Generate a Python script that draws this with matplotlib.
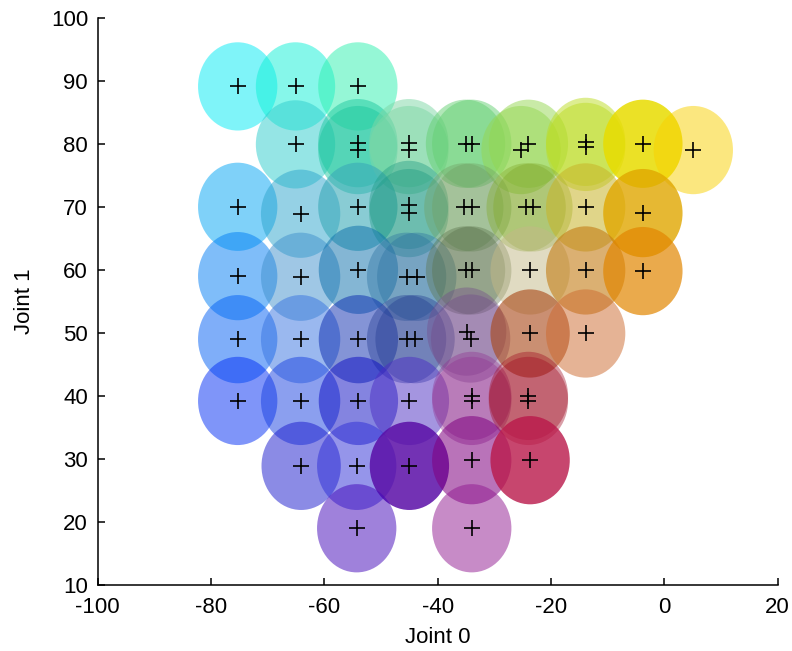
import matplotlib
matplotlib.use("Agg")
import matplotlib.pyplot as plt
from matplotlib.patches import Circle

plt.rcParams['font.family'] = ['Liberation Sans', 'DejaVu Sans']
plt.rcParams['axes.unicode_minus'] = False

# joint angles of each sample
joint0 = [-75.3, -65.1, -54.1,
          -65.1, -54.1, -54.1, -45.1, -45.1, -35.1, -34.0, -24.0, -25.3, -13.9, -13.9, -3.8, 5.1,
          -75.3, -64.2, -54.1, -45.1, -45.1, -35.4, -34.0, -24.4, -23.2, -13.9, -3.8,
          -75.3, -64.2, -54.0, -45.5, -43.7, -35.1, -34.0, -23.7, -13.9, -3.8,
          -75.3, -64.2, -54.0, -45.5, -44.0, -34.9, -34.2, -23.7, -13.9,
          -75.3, -64.2, -54.0, -45.0, -34.0, -34.0, -24.0, -24.0,
          -64.1, -54.3, -45.0, -34.0, -23.7,
          -54.3, -34.0]
joint1 = [89.1, 89.1, 89.1,
          79.9, 80.1, 79.0, 80.1, 79.0, 80.0, 80.0, 80.0, 79.0, 80.3, 79.5, 80.0, 79.0,
          70.0, 68.9, 70.0, 70.3, 69.0, 69.9, 69.9, 69.9, 69.9, 69.9, 69.0,
          59.0, 58.9, 60.0, 58.9, 58.9, 59.9, 59.9, 59.9, 59.9, 59.8,
          49.0, 49.0, 49.0, 49.0, 49.0, 50.2, 49.1, 49.9, 49.9,
          39.2, 39.2, 39.2, 39.2, 40.0, 39.2, 40.0, 39.2,
          28.9, 28.9, 28.9, 29.8, 29.8,
          19.0, 19.0]

# fill colour and opacity of each sample's circle
colors = ['#00ebf5', '#0ff1d7', '#2df1af',
          '#2dcdcd', '#1ec8a0', '#1ec8a0', '#7dd7a5', '#7dd7a5', '#65d073', '#65d073',
          '#94d751', '#94d751', '#bcdd23', '#bcdd23', '#e8dc00', '#f9d100',
          '#00a5f5', '#2da5cd', '#3aaab8', '#1c9982', '#1c9982', '#72a163', '#72a163',
          '#82a92c', '#82a92c', '#c8b428', '#e0a700',
          '#007df5', '#4191cd', '#0a6eaa', '#2c72a1', '#2c72a1', '#5b724b', '#5b724b',
          '#c3b987', '#c37c14', '#e28600',
          '#005ff5', '#3773e1', '#0a2aaf', '#243c92', '#243c92', '#724b8a', '#724b8a',
          '#a84514', '#cd692d',
          '#002df5', '#1941e1', '#0a0ac3', '#4b2dc3', '#923492', '#923492', '#a10d24', '#a10d24',
          '#1919cd', '#2d2dd7', '#5a0ea7', '#800080', '#ba184a',
          '#4105b9', '#911991']
alphas = [0.5, 0.5, 0.5,
          0.5, 0.5, 0.5, 0.5, 0.5, 0.5, 0.5, 0.5, 0.5, 0.5, 0.5, 0.85, 0.5,
          0.5, 0.5, 0.6, 0.4, 0.4, 0.4, 0.4, 0.4, 0.4, 0.55, 0.8,
          0.5, 0.5, 0.5, 0.4, 0.4, 0.4, 0.4, 0.5, 0.6, 0.7,
          0.5, 0.5, 0.5, 0.4, 0.4, 0.4, 0.4, 0.6, 0.5,
          0.5, 0.5, 0.5, 0.5, 0.4, 0.4, 0.4, 0.4,
          0.5, 0.5, 0.85, 0.55, 0.8,
          0.5, 0.5]

fig = plt.figure(figsize=(7.92, 6.51), dpi=100)
ax = fig.add_axes([0.1234, 0.1014, 0.8586, 0.8714])

for x, y, c, a in zip(joint0, joint1, colors, alphas):
    ax.add_patch(Circle((x, y), 7, facecolor=c, edgecolor='none', alpha=a))

ax.plot(joint0, joint1, '+', color='k', markersize=12, markeredgewidth=1.2)

ax.set_xlim(-100, 20)
ax.set_ylim(10, 100)
ax.set_xticks(range(-100, 21, 20))
ax.set_yticks(range(10, 101, 10))
ax.spines['top'].set_visible(False)
ax.spines['right'].set_visible(False)
for side in ('left', 'bottom'):
    ax.spines[side].set_linewidth(1.1)
ax.tick_params(direction='in', length=5, width=1.1, labelsize=16)
ax.tick_params(axis='x', pad=9)
ax.tick_params(axis='y', pad=7)
ax.set_xlabel('Joint 0', fontsize=16, labelpad=6)
ax.set_ylabel('Joint 1', fontsize=16, labelpad=11)

fig.savefig('out.png', dpi=100)
